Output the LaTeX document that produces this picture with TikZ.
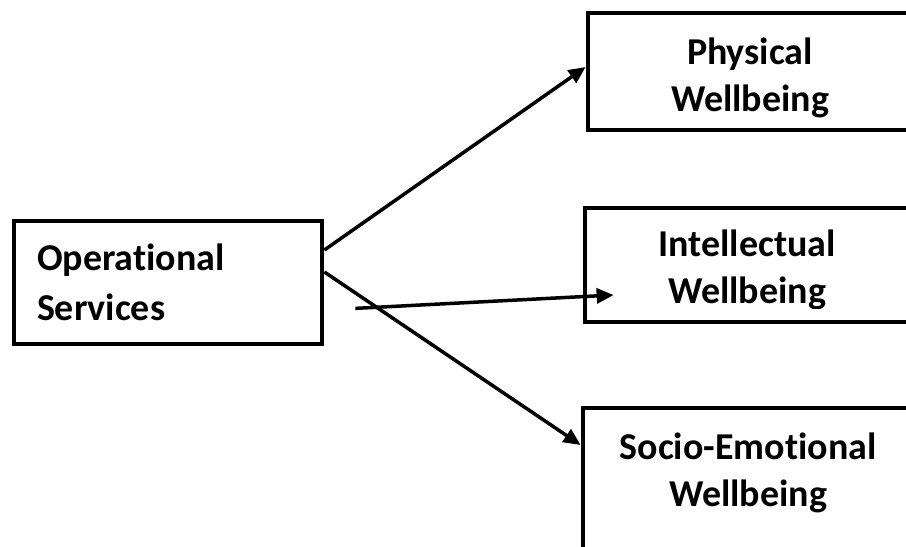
\documentclass[tikz,border=0pt]{standalone}
\usepackage{fontspec}
\setmainfont{Carlito}[Ligatures=NoCommon]
\usetikzlibrary{arrows.meta,calc}

\begin{document}
\begin{tikzpicture}[%
 box/.style={
 	rectangle,
 	draw=black,
 	line width=0.095cm,
 	inner sep=0pt
 },
 label/.style={
 	font=\fontsize{21.6}{26.5}\selectfont\bfseries,
 	align=center,
 	inner sep=0pt
 },
 line/.style={
 	draw,
 	line width=0.07cm,
 	-{Triangle[length=0.34cm,width=0.3cm]}
 }
 ]
 \path[use as bounding box, clip] (0,0) rectangle (18.12,-10.94);
 \node[box, minimum width=6.16cm, minimum height=2.46cm, align=left, text width=5.24cm,
 	font=\fontsize{21.6}{28.5}\selectfont\bfseries] (ops) at (3.36,-5.65) {Operational\\Services};
 \node[box, minimum width=6.48cm, minimum height=2.34cm] (phys) at (15.0,-1.43) {};
 \node[box, minimum width=6.48cm, minimum height=2.28cm] (intel) at (14.94,-5.30) {};
 \node[box, minimum width=6.6cm, minimum height=3cm] (socio) at (14.96,-9.66) {};

 % text of the boxes on the right, cut off at the bottom as in the original
 \begin{scope}
 \clip (11.8,0) rectangle (18.12,-2.36);
 \node[label] (phystext) at (15.0,-1.56) {Physical\\Wellbeing};
 \end{scope}
 \begin{scope}
 \clip (11.8,-4) rectangle (18.12,-6.16);
 \node[label] (inteltext) at (14.94,-5.40) {Intellectual\\Wellbeing};
 \end{scope}
 \node[label] (sociotext) at (14.96,-9.46) {Socio-Emotional\\Wellbeing};

\coordinate (istart) at ($(ops.south east)+(0.62,0.76)$);
\coordinate (iend) at ($(intel.west)+(0.62,-0.6)$);
\draw[line] ([yshift=0.65cm]ops.east) -- ([yshift=0.09cm]phys.west);
\draw[line] (istart) -- (iend);
\draw[line] ([yshift=0.21cm]ops.east) -- ([yshift=0.76cm]socio.west);
 \end{tikzpicture}
\end{document}
